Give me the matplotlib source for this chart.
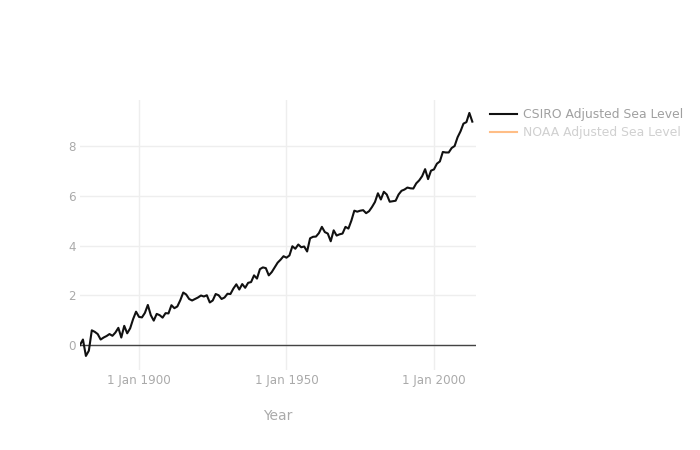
import numpy as np
import matplotlib
matplotlib.use("Agg")
import matplotlib.pyplot as plt

plt.rcParams['font.family'] = ['DejaVu Sans']

# CSIRO adjusted sea level (inches), one value per year from 1880
years = np.arange(1880, 2014)
csiro = [
    0.00, 0.22, -0.44, -0.23, 0.59, 0.53, 0.44, 0.22, 0.30, 0.36,   # 1880s
    0.44, 0.37, 0.50, 0.69, 0.30, 0.77, 0.47, 0.67, 1.04, 1.34,     # 1890s
    1.13, 1.11, 1.29, 1.61, 1.20, 0.98, 1.25, 1.20, 1.10, 1.28,     # 1900s
    1.27, 1.60, 1.48, 1.55, 1.80, 2.11, 2.03, 1.85, 1.79, 1.85,     # 1910s
    1.91, 1.99, 1.95, 2.00, 1.71, 1.79, 2.05, 2.00, 1.85, 1.91,     # 1920s
    2.06, 2.05, 2.27, 2.44, 2.23, 2.45, 2.30, 2.50, 2.53, 2.80,     # 1930s
    2.67, 3.05, 3.12, 3.09, 2.80, 2.93, 3.12, 3.31, 3.43, 3.57,     # 1940s
    3.51, 3.60, 3.97, 3.87, 4.04, 3.93, 3.96, 3.76, 4.29, 4.35,     # 1950s
    4.36, 4.50, 4.75, 4.54, 4.48, 4.17, 4.61, 4.40, 4.45, 4.48,     # 1960s
    4.75, 4.68, 5.00, 5.40, 5.36, 5.40, 5.42, 5.30, 5.38, 5.55,     # 1970s
    5.75, 6.10, 5.85, 6.16, 6.05, 5.76, 5.78, 5.80, 6.05, 6.20,     # 1980s
    6.25, 6.33, 6.30, 6.29, 6.50, 6.62, 6.79, 7.07, 6.67, 7.01,     # 1990s
    7.06, 7.29, 7.38, 7.76, 7.74, 7.74, 7.92, 8.00, 8.35, 8.59,     # 2000s
    8.90, 8.96, 9.33, 8.98,                                         # 2010s
]
# NOAA series is hidden in the reference (legend only)
noaa_years = []
noaa = []

xticks = [1900, 1950, 2000]
xlabels = ['1 Jan 1900', '1 Jan 1950', '1 Jan 2000']
yticks = [0, 2, 4, 6, 8]

fig = plt.figure(figsize=(7, 4.5), dpi=100)
ax = fig.add_axes([80/700, 1-370/450, 396/700, 270/450])

ax.plot(years, csiro, color='#111111', lw=1.5, label='CSIRO Adjusted Sea Level', zorder=3)
ax.plot(noaa_years, noaa, color='#ff7f0e', alpha=0.5, lw=1.5, label='NOAA Adjusted Sea Level')

ax.set_xlim(1880, 2014.25)
ax.set_ylim(-1.005, 9.85)
ax.set_xticks(xticks)
ax.set_xticklabels(xlabels)
ax.set_yticks(yticks)
ax.grid(True, color='#eeeeee', lw=1)
ax.set_axisbelow(True)
ax.axhline(0, color='#444444', lw=1, zorder=2)
for s in ax.spines.values():
    s.set_visible(False)
ax.tick_params(length=0, labelsize=8.6, colors='#aaaaaa', pad=3)
ax.tick_params(axis='x', pad=3)
ax.set_xlabel('Year', fontsize=10, color='#aaaaaa', labelpad=16)

leg = ax.legend(loc='upper left', bbox_to_anchor=(490/700, 1-108/450),
                bbox_transform=fig.transFigure, frameon=False, fontsize=8.9,
                handlelength=2.2, handletextpad=0.5, labelspacing=0.4,
                borderaxespad=0, borderpad=0)
leg.get_texts()[0].set_color('#a0a0a0')
leg.get_texts()[1].set_color('#d0d0d0')

fig.savefig('out.png', dpi=100)
